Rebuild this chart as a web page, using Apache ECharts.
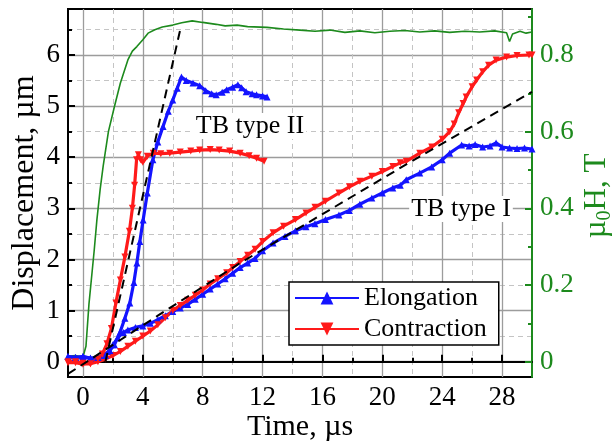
<!DOCTYPE html>
<html>
<head>
    <meta charset="UTF-8">
    <title>Displacement vs time</title>
    <script src="https://cdn.jsdelivr.net/npm/echarts@6/dist/echarts.min.js"></script>
</head>
<style>
    html, body { margin: 0; padding: 0; background: #fff; }
    #chart { width: 614px; height: 447px; }
</style>
<body>
<div id="chart"></div>
<script>
    // tick positions
    var timeTicks = [0, 4, 8, 12, 16, 20, 24, 28];
    var timeMinor = [2, 6, 10, 14, 18, 22, 26];
    var dispTicks = [0, 1, 2, 3, 4, 5, 6];
    var dispMinor = [0.5, 1.5, 2.5, 3.5, 4.5, 5.5, 6.5];
    var fieldTicks = [0, 0.2, 0.4, 0.6, 0.8];
    var fieldMinor = [0.1, 0.3, 0.5, 0.7, 0.9];

    // [time us, displacement um]
    var elongationTypeII = [[-1,0.1],[-0.5,0.08],[0,0.1],[0.5,0.06],[1,0.08],[1.5,0.12],[1.8,0.22],[2.1,0.33],[2.47,0.57],[2.8,0.85],[3.13,1.15],[3.4,1.55],[3.6,1.93],[3.8,2.35],[4.02,2.77],[4.3,3.3],[4.67,3.95],[5.0,4.3],[5.35,4.6],[5.7,4.9],[6.0,5.12],[6.3,5.35],[6.58,5.57],[6.9,5.5],[7.35,5.45],[7.8,5.4],[8.2,5.3],[8.6,5.24],[8.9,5.22],[9.3,5.27],[9.6,5.32],[10.0,5.37],[10.35,5.42],[10.6,5.36],[10.9,5.28],[11.3,5.24],[11.6,5.22],[12.0,5.2],[12.3,5.18]];
    var contractionTypeII = [[-1,0.0],[-0.5,0.0],[0,-0.03],[0.5,-0.04],[1.0,0.05],[1.3,0.15],[1.6,0.35],[1.9,0.65],[2.2,1.15],[2.5,1.6],[2.8,2.05],[3.1,2.55],[3.3,3.0],[3.45,3.45],[3.58,3.95],[3.7,4.05],[3.85,3.95],[4.0,3.9],[4.3,4.02],[4.7,4.08],[5.2,4.07],[5.8,4.08],[6.5,4.1],[7.2,4.12],[7.8,4.14],[8.5,4.15],[9.1,4.14],[9.8,4.12],[10.5,4.08],[11.1,4.03],[11.6,3.98],[12.1,3.92]];
    var elongationTypeI = [[-1,0.1],[-0.5,0.08],[0,0.1],[0.5,0.07],[1,0.08],[1.4,0.12],[1.7,0.2],[2.0,0.33],[2.33,0.47],[2.7,0.57],[3.0,0.62],[3.5,0.67],[4.0,0.7],[4.5,0.75],[5.0,0.82],[5.5,0.9],[6.0,0.98],[6.5,1.05],[7.0,1.12],[7.5,1.22],[8.0,1.32],[8.5,1.42],[9.0,1.52],[9.5,1.62],[10.0,1.73],[10.5,1.84],[11.0,1.93],[11.5,2.02],[12.0,2.17],[12.7,2.32],[13.5,2.45],[14.2,2.56],[14.9,2.64],[15.5,2.7],[16.2,2.78],[17.1,2.87],[17.8,2.96],[18.5,3.08],[19.3,3.2],[20.0,3.3],[20.7,3.4],[21.2,3.45],[21.6,3.56],[22.5,3.69],[23.3,3.81],[24.0,3.95],[24.5,4.08],[25.3,4.24],[25.8,4.22],[26.2,4.25],[26.7,4.2],[27.2,4.22],[27.6,4.28],[28.0,4.2],[28.5,4.18],[29.0,4.17],[29.5,4.18],[30,4.16]];
    var contractionTypeI = [[-1,-0.02],[-0.5,-0.02],[0,-0.05],[0.5,-0.04],[1.0,0.0],[1.5,0.05],[2.0,0.12],[2.5,0.2],[3.0,0.3],[3.5,0.4],[4.0,0.5],[4.5,0.6],[5.0,0.72],[5.5,0.86],[6.0,1.0],[6.5,1.1],[7.0,1.2],[7.5,1.3],[8.0,1.4],[8.5,1.52],[9.0,1.62],[9.6,1.74],[10.0,1.84],[10.5,1.96],[11.0,2.08],[11.5,2.2],[12.0,2.35],[12.7,2.52],[13.4,2.65],[14.2,2.78],[14.9,2.91],[15.5,3.02],[16.2,3.14],[17.1,3.3],[17.8,3.42],[18.5,3.53],[19.3,3.63],[20.0,3.72],[20.7,3.82],[21.2,3.89],[21.6,3.92],[22.5,4.08],[23.3,4.2],[24.0,4.35],[24.5,4.5],[24.8,4.65],[25.1,4.87],[25.4,5.05],[25.6,5.18],[26.0,5.38],[26.3,5.51],[26.7,5.67],[27.1,5.8],[27.6,5.9],[28.3,5.96],[29.0,5.99],[29.8,6.0],[30,6.0]];
    var fitTypeI = [[-1,-0.24],[5,0.9],[10.5,1.93],[21.6,3.86],[30,5.28]];
    var fitTypeII = [[1.5,0.0],[6.5,6.5]];
    // [time us, mu0H T]
    var field = [[-1,0.014],[-0.5,0.016],[0,0.012],[0.2,0.04],[0.4,0.15],[0.6,0.23],[0.75,0.29],[0.93,0.37],[1.15,0.45],[1.35,0.51],[1.7,0.6],[2.1,0.665],[2.5,0.727],[3.0,0.787],[3.3,0.81],[3.6,0.822],[4.0,0.84],[4.35,0.857],[4.8,0.866],[5.3,0.873],[6.0,0.878],[6.6,0.884],[7.3,0.889],[8.0,0.885],[8.9,0.88],[9.5,0.876],[10.3,0.878],[11.0,0.874],[12.3,0.872],[13.4,0.868],[14.5,0.865],[15.5,0.862],[16.5,0.865],[17.5,0.859],[18.5,0.863],[19.5,0.858],[20.5,0.862],[21.5,0.864],[22.5,0.86],[23.5,0.863],[24.5,0.859],[25.5,0.862],[26.5,0.86],[27.5,0.863],[28.3,0.858],[28.5,0.835],[28.7,0.855],[29.2,0.862],[29.6,0.857],[30,0.86]];

    var serif = 'Liberation Serif';
    var green = '#1d8a1d';
    var blue = '#1414ff';
    var red = '#ff1a1a';
    var grid = '#9c9c9c';

    function xAxisOf(ticks, major) {
        return {
            type: 'value', min: -1, max: 30, position: 'bottom',
            axisLine: {show: major, lineStyle: {color: '#000', width: 2}},
            axisTick: {inside: true, length: major ? 7 : 4, customValues: ticks, lineStyle: {color: '#000', width: 2}},
            axisLabel: {show: major, customValues: ticks, color: '#000', fontFamily: serif, fontSize: 27, margin: 7},
            splitLine: {show: true, lineStyle: major ? {color: grid, width: 1.3} : {color: '#c4c4c4', width: 1, type: [5, 4]}}
        };
    }
    function yAxisOf(pos, min, max, ticks, major, color, split) {
        return {
            type: 'value', min: min, max: max, position: pos,
            axisLine: {show: major, onZero: false, lineStyle: {color: color, width: 2}},
            axisTick: {inside: true, length: major ? 7 : 4, customValues: ticks, lineStyle: {color: color, width: 2}},
            axisLabel: {show: major, customValues: ticks, color: color, fontFamily: serif, fontSize: 27, margin: 8},
            splitLine: {show: split, lineStyle: major ? {color: grid, width: 1.3} : {color: '#c4c4c4', width: 1, type: [5, 4]}}
        };
    }
    function curve(name, data, color, rotate) {
        return {
            name: name, type: 'line', data: data, xAxisIndex: 0, yAxisIndex: 0,
            symbol: 'triangle', symbolSize: 7, symbolRotate: rotate, showAllSymbol: true,
            lineStyle: {color: color, width: 3.2}, itemStyle: {color: color}, z: 3
        };
    }

    var chart = echarts.init(document.getElementById('chart'));
    chart.setOption({
        animation: false,
        grid: {left: 68, right: 82, top: 9, bottom: 70, show: true, borderColor: '#000', borderWidth: 2, backgroundColor: '#fff'},
        xAxis: [xAxisOf(timeTicks, true), xAxisOf(timeMinor, false)],
        yAxis: [
            yAxisOf('left', -0.3, 6.9, dispTicks, true, '#000', true),
            yAxisOf('left', -0.3, 6.9, dispMinor, false, '#000', true),
            yAxisOf('right', -0.04, 0.92, fieldTicks, true, green, false),
            yAxisOf('right', -0.04, 0.92, fieldMinor, false, green, false)
        ],
        legend: {
            data: ['Elongation', 'Contraction'], orient: 'vertical', left: 289, top: 282,
            itemWidth: 64, itemHeight: 16, itemGap: 5, padding: [3, 12, 3, 5],
            borderColor: '#000', borderWidth: 1.5, backgroundColor: '#fff',
            textStyle: {color: '#000', fontFamily: serif, fontSize: 26}
        },
        series: [
            {name: 'field', type: 'line', data: field, yAxisIndex: 2, symbol: 'none', lineStyle: {color: green, width: 1.6}, z: 2},
            curve('Elongation', elongationTypeI, blue, 0),
            curve('Contraction', contractionTypeI, red, 180),
            curve('Elongation', elongationTypeII, blue, 0),
            curve('Contraction', contractionTypeII, red, 180),
            {name: 'fit I', type: 'line', data: fitTypeI, symbol: 'none', lineStyle: {color: '#000', width: 2, type: [9, 6]}, z: 4},
            {name: 'fit II', type: 'line', data: fitTypeII, symbol: 'none', lineStyle: {color: '#000', width: 2, type: [9, 6]}, z: 4}
        ],
        graphic: [
            {type: 'text', x: 300, y: 427, z: 10, style: {text: 'Time, µs', font: '30px "Liberation Serif"', fill: '#000', align: 'center', verticalAlign: 'middle'}},
            {type: 'text', x: 25, y: 193, rotation: Math.PI / 2, z: 10, style: {text: 'Displacement, µm', font: '32px "Liberation Serif"', fill: '#000', align: 'center', verticalAlign: 'middle'}},
            {type: 'text', x: 597, y: 196, rotation: Math.PI / 2, z: 10, style: {
                text: '{a|µ}{s|0}{a|H, T}', fill: green, align: 'center', verticalAlign: 'middle',
                rich: {a: {fontFamily: serif, fontSize: 31, fill: green, lineHeight: 36}, s: {fontFamily: serif, fontSize: 20, fill: green, lineHeight: 36, verticalAlign: 'bottom'}}
            }},
            {type: 'text', x: 250, y: 126, z: 10, style: {text: 'TB type II', font: '26px "Liberation Serif"', fill: '#000', align: 'center', verticalAlign: 'middle', backgroundColor: '#fff', padding: [0, 2]}},
            {type: 'text', x: 461, y: 209, z: 10, style: {text: 'TB type I', font: '26px "Liberation Serif"', fill: '#000', align: 'center', verticalAlign: 'middle', backgroundColor: '#fff', padding: [0, 2]}}
        ]
    });
</script>
</body>
</html>
